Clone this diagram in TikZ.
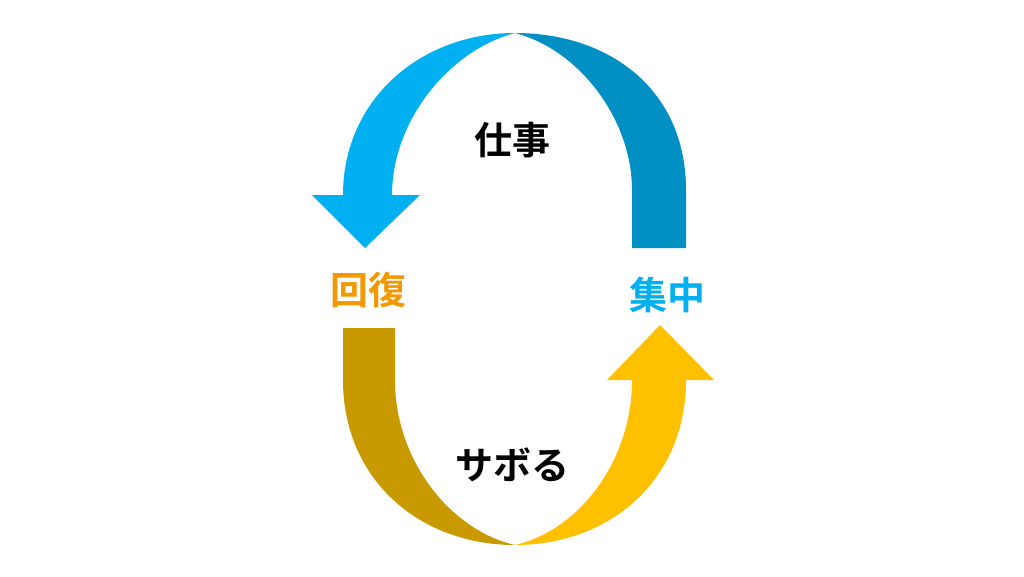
\documentclass[tikz,border=0pt]{standalone}
\usepackage{fontspec}
\newfontfamily\cjk{Noto Sans CJK JP Bold}
\definecolor{lblue}{HTML}{00B0F0}
\definecolor{dblue}{HTML}{0090C4}
\definecolor{lgold}{HTML}{FFC000}
\definecolor{dgold}{HTML}{C99A00}
\definecolor{orng}{HTML}{F39800}
\tikzset{lbl/.style={font=\cjk\fontsize{38}{38}\selectfont}}
\begin{document}
\begin{tikzpicture}[x=1pt,y=-1pt]
\useasboundingbox (0,0) rectangle (1024,576);
\fill[white] (0,0) rectangle (1024,576);
\fill[dblue] (686,248) -- (686,190) .. controls (686,90) and (610,33) .. (515,33)
  .. controls (580,50) and (632,120) .. (632,190) -- (632,248) -- cycle;
\fill[lblue] (515,33) .. controls (420,33) and (343,100) .. (343,195) -- (312,195) -- (365,248) -- (420,195) -- (392,195)
  .. controls (392,120) and (450,50) .. (515,33) -- cycle;
\fill[dgold] (343,328) -- (343,380) .. controls (343,480) and (420,545) .. (515,545)
  .. controls (450,530) and (395,460) .. (395,380) -- (395,328) -- cycle;
\fill[lgold] (515,545) .. controls (610,545) and (686,480) .. (686,380) -- (714,380) -- (660,325) -- (607,380) -- (632,380)
  .. controls (632,460) and (580,530) .. (515,545) -- cycle;
\node[lbl] (work) at (512,140) {仕事};
\node[lbl,text=orng] (rest) at (368,290) {回復};
\node[lbl,text=lblue] (focus) at (667,295) {集中};
\node[lbl] (slack) at (512,465) {サボる};
\end{tikzpicture}
\end{document}
